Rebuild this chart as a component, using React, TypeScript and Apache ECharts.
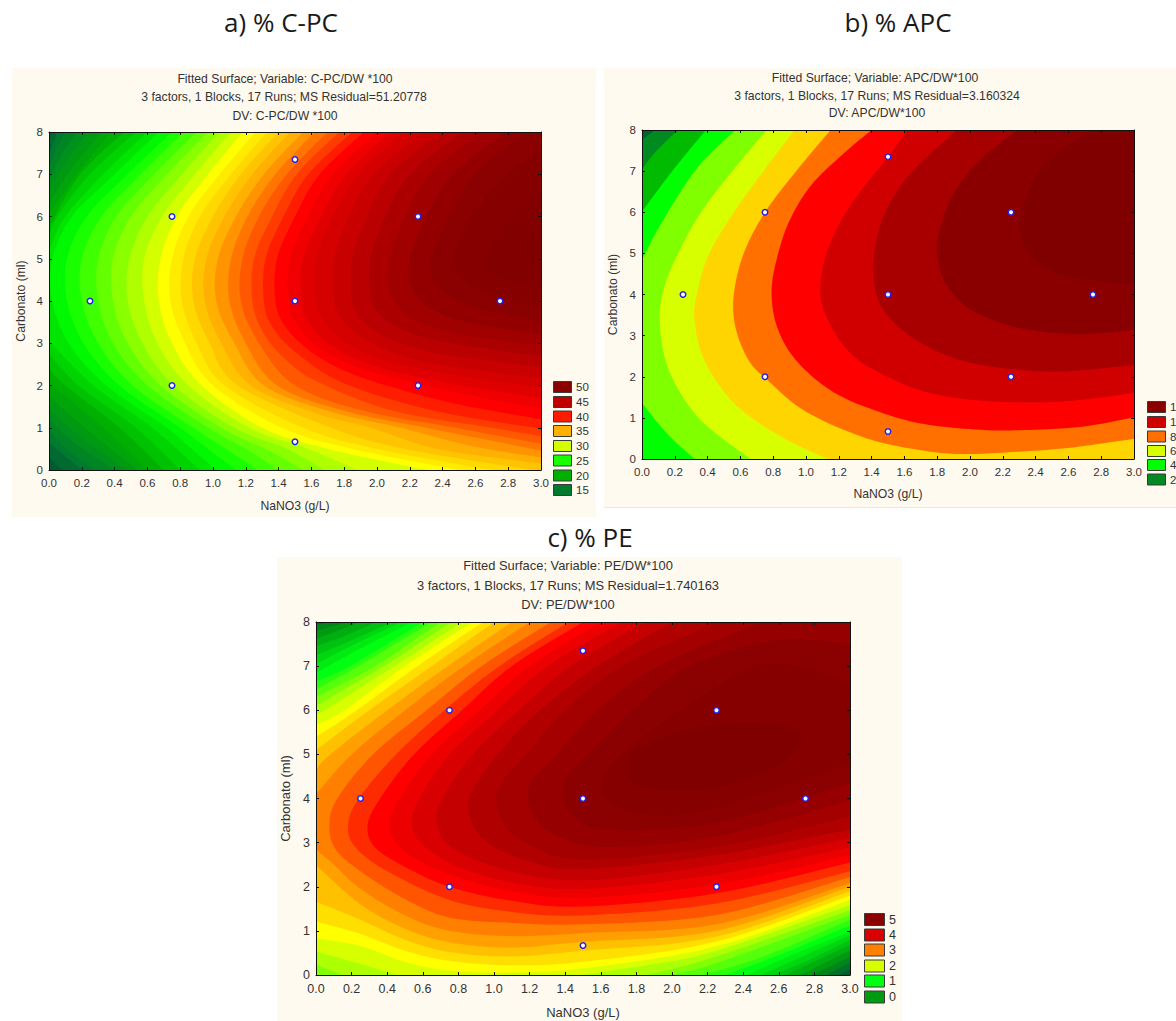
import React, { useEffect, useRef } from "react";
import * as echarts from "echarts";

type Pt = number[];
type Contour = [number, Pt[][]];

const X_TICK_MAX = 3;
const Y_TICK_MAX = 8;
const DESIGN_X = [0.25, 0.75, 0.75, 1.5, 1.5, 1.5, 2.25, 2.25, 2.75];
const DESIGN_Y = [4, 2, 6, 0.67, 4, 7.35, 2, 6, 4];

const TITLE_A = ["Fitted Surface; Variable: C-PC/DW *100", "3 factors, 1 Blocks, 17 Runs; MS Residual=51.20778", "DV: C-PC/DW *100"];
const TITLE_B = ["Fitted Surface; Variable: APC/DW*100", "3 factors, 1 Blocks, 17 Runs; MS Residual=3.160324", "DV: APC/DW*100"];
const TITLE_C = ["Fitted Surface; Variable: PE/DW*100", "3 factors, 1 Blocks, 17 Runs; MS Residual=1.740163", "DV: PE/DW*100"];
const LEGEND_A = ["50", "45", "40", "35", "30", "25", "20", "15"];
const LEGEND_B = ["12", "10", "8", "6", "4", "2"];
const LEGEND_C = ["5", "4", "3", "2", "1", "0"];

// Each contour: level, then its pieces as [NaNO3, Carbonato].
const CONTOURS_A: Contour[] = [
  [13, [[[0, 8]], [[0, 0]]]],
  [14, [[[0.02, 8], [0, 7.75]], [[0, 0.3], [0.08, 0]]]],
  [15, [[[0.05, 8], [0, 7.45]], [[0, 0.65], [0.2, 0]]]],
  [16, [[[0.1, 8], [0.04, 7.55], [0, 7.1]], [[0, 0.95], [0.12, 0.45], [0.28, 0]]]],
  [17, [[[0.17, 8], [0.07, 7.42], [0, 6.85]], [[0, 1.2], [0.17, 0.6], [0.4, 0]]]],
  [18, [[[0.24, 8], [0.1, 7.3], [0, 6.6]], [[0, 1.45], [0.2, 0.75], [0.47, 0]]]],
  [19, [[[0.32, 8], [0.14, 7.15], [0, 6.3]], [[0, 1.75], [0.25, 0.9], [0.54, 0]]]],
  [20, [[[0.38, 8], [0.17, 7], [0, 6.05]], [[0, 2.05], [0.33, 1], [0.6, 0]]]],
  [21, [[[0.46, 8], [0.19, 7], [0, 5.75]], [[0, 2.4], [0.1, 2], [0.43, 1], [0.7, 0]]]],
  [22, [[[0.53, 8], [0.25, 7], [0.05, 6], [0, 5.5]], [[0, 2.75], [0.18, 2], [0.53, 1], [0.8, 0]]]],
  [23, [[[0.6, 8], [0.33, 7], [0.1, 6], [0, 5.2]], [[0, 3.05], [0.27, 2], [0.63, 1], [0.92, 0]]]],
  [24, [[[0.67, 8], [0.4, 7], [0.14, 6], [0.02, 5], [0.02, 4], [0.12, 3], [0.35, 2], [0.72, 1], [0.87, 0.5], [1.02, 0]]]],
  [25, [[[0.75, 8], [0.48, 7], [0.23, 6], [0.11, 5], [0.11, 4], [0.21, 3], [0.43, 2], [0.8, 1], [0.97, 0.5], [1.14, 0]]]],
  [26, [[[0.82, 8], [0.56, 7], [0.32, 6], [0.2, 5], [0.2, 4], [0.3, 3], [0.51, 2], [0.88, 1], [1.08, 0.5], [1.27, 0]]]],
  [27, [[[0.9, 8], [0.64, 7], [0.41, 6], [0.3, 5], [0.3, 4], [0.39, 3], [0.6, 2], [0.97, 1], [1.2, 0.5], [1.4, 0]]]],
  [28, [[[0.97, 8], [0.72, 7], [0.5, 6], [0.39, 5], [0.39, 4], [0.48, 3], [0.68, 2], [1.05, 1], [1.32, 0.5], [1.55, 0]]]],
  [29, [[[1.04, 8], [0.81, 7], [0.6, 6], [0.49, 5], [0.48, 4], [0.57, 3], [0.76, 2], [1.13, 1], [1.45, 0.5], [1.68, 0]]]],
  [30, [[[1.11, 8], [0.89, 7], [0.69, 6], [0.58, 5], [0.58, 4], [0.66, 3], [0.85, 2], [1.22, 1], [1.58, 0.5], [1.88, 0]]]],
  [31, [[[1.18, 8], [0.97, 7], [0.78, 6], [0.68, 5], [0.67, 4], [0.75, 3], [0.93, 2], [1.3, 1], [1.7, 0.5], [2.3, 0]]]],
  [32, [[[1.26, 8], [1.04, 7], [0.85, 6], [0.75, 5], [0.74, 4], [0.83, 3], [1, 2], [1.42, 1], [1.85, 0.5], [2.5, 0]]]],
  [33, [[[1.33, 8], [1.11, 7], [0.92, 6], [0.82, 5], [0.81, 4], [0.9, 3], [1.07, 2], [1.55, 1], [2, 0.5], [2.7, 0]]]],
  [34, [[[1.4, 8], [1.17, 7], [1, 6], [0.89, 5], [0.88, 4], [0.98, 3], [1.15, 2], [1.72, 1], [2.17, 0.5], [2.95, 0]]]],
  [35, [[[1.47, 8], [1.24, 7], [1.07, 6], [0.96, 5], [0.95, 4], [1.05, 3], [1.23, 2], [1.62, 1.35], [1.96, 1], [2.37, 0.5], [3, 0.15]]]],
  [36, [[[1.55, 8], [1.31, 7], [1.14, 6], [1.03, 5], [1.02, 4], [1.13, 3], [1.31, 2], [1.7, 1.4], [2.14, 1], [2.6, 0.55], [3, 0.3]]]],
  [37, [[[1.62, 8], [1.38, 7], [1.21, 6], [1.11, 5], [1.1, 4], [1.2, 3], [1.39, 2], [1.8, 1.4], [2.3, 1], [3, 0.46]]]],
  [38, [[[1.7, 8], [1.45, 7], [1.28, 6], [1.18, 5], [1.17, 4], [1.28, 3], [1.5, 2], [1.92, 1.4], [2.48, 1], [3, 0.62]]]],
  [39, [[[1.77, 8], [1.51, 7], [1.36, 6], [1.25, 5], [1.24, 4], [1.3, 3.3], [1.42, 2.7], [1.63, 2.1], [2.1, 1.4], [2.7, 1], [3, 0.8]]]],
  [40, [[[1.85, 8], [1.58, 7], [1.43, 6], [1.32, 5], [1.31, 4], [1.36, 3.4], [1.5, 2.8], [1.8, 2.05], [2.35, 1.4], [3, 0.98]]]],
  [41, [[[1.92, 8], [1.65, 7], [1.5, 6], [1.39, 5], [1.38, 4], [1.44, 3.4], [1.58, 2.85], [1.8, 2.35], [2.1, 1.95], [2.5, 1.55], [3, 1.2]]]],
  [42, [[[2, 8], [1.73, 7], [1.58, 6], [1.47, 5], [1.46, 4], [1.52, 3.4], [1.66, 2.85], [1.9, 2.4], [2.3, 2], [2.65, 1.7], [3, 1.45]]]],
  [43, [[[2.08, 8], [1.81, 7], [1.66, 6], [1.55, 5], [1.54, 4], [1.6, 3.4], [1.76, 2.85], [2.02, 2.42], [2.45, 2.05], [3, 1.7]]]],
  [44, [[[2.16, 8], [1.89, 7], [1.73, 6], [1.63, 5], [1.63, 4], [1.7, 3.4], [1.86, 2.9], [2.12, 2.52], [2.55, 2.2], [3, 1.95]]]],
  [45, [[[2.28, 8], [1.98, 7], [1.83, 6], [1.74, 5], [1.74, 4], [1.8, 3.5], [1.97, 3], [2.25, 2.6], [2.65, 2.35], [3, 2.18]]]],
  [46, [[[2.4, 8], [2.08, 7], [1.94, 6], [1.85, 5], [1.85, 4], [1.92, 3.5], [2.08, 3.1], [2.35, 2.78], [2.7, 2.58], [3, 2.43]]]],
  [47, [[[2.52, 8], [2.2, 7], [2.05, 6], [1.96, 5], [1.96, 4.1], [2.04, 3.6], [2.2, 3.25], [2.45, 3], [2.75, 2.83], [3, 2.7]]]],
  [48, [[[2.64, 8], [2.32, 7], [2.17, 6], [2.08, 5], [2.08, 4.2], [2.17, 3.7], [2.32, 3.4], [2.55, 3.18], [3, 2.95]]]],
  [49, [[[2.78, 8], [2.46, 7], [2.3, 6], [2.2, 5], [2.2, 4.4], [2.28, 3.95], [2.42, 3.65], [2.65, 3.42], [3, 3.2]]]],
  [50, [[[2.9, 8], [2.6, 7], [2.44, 6], [2.33, 5], [2.36, 4.4], [2.5, 4], [2.7, 3.75], [3, 3.5]]]],
  [51, [[[3, 7.6], [2.8, 7], [2.58, 6], [2.47, 5], [2.55, 4.45], [2.75, 4.1], [3, 3.85]]]],
  [52, [[[3, 6.7], [2.82, 6], [2.66, 5], [2.72, 4.6], [3, 4.3]]]],
  [53, [[[3, 5.9], [2.9, 5.3], [2.95, 4.85], [3, 4.7]]]],
];

const CONTOURS_B: Contour[] = [
  [0, [[[0, 8]], [[0, 0]]]],
  [1, [[[0.08, 8], [0, 7.76]], [[0, 0]]]],
  [2, [[[0.22, 8], [0.09, 7.5], [0, 7.05]], [[0, 0]]]],
  [3, [[[0.39, 8], [0.19, 7.03], [0, 6.02]], [[0, 0]]]],
  [4, [[[0.57, 8], [0.34, 7.1], [0.12, 5.75], [0, 4.84]], [[0, 1.36], [0.15, 0.63], [0.32, 0]]]],
  [5, [[[0.76, 8], [0.55, 7], [0.36, 6], [0.22, 5], [0.13, 4.1], [0.11, 3.2], [0.17, 2.1], [0.35, 0.98], [0.66, 0]]]],
  [6, [[[0.93, 8], [0.74, 7], [0.56, 6], [0.41, 5], [0.34, 4.1], [0.32, 3.4], [0.38, 2.4], [0.56, 1.36], [0.84, 0.56], [1.13, 0]]]],
  [7, [[[1.15, 8], [0.94, 7], [0.75, 6], [0.62, 5], [0.56, 4], [0.57, 3.2], [0.65, 2.4], [0.77, 1.9], [1, 1.15], [1.37, 0.5], [1.72, 0.2], [1.96, 0.12], [2.26, 0.17], [2.6, 0.27], [3, 0.49]]]],
  [8, [[[1.4, 8], [1.25, 7.5], [1.04, 6.7], [0.9, 5.8], [0.82, 4.84], [0.79, 4], [0.83, 3.14], [0.95, 2.35], [1.17, 1.62], [1.45, 1.14], [1.72, 0.85], [2.06, 0.71], [2.3, 0.7], [2.67, 0.78], [3, 1.01]]]],
  [9, [[[1.62, 8], [1.5, 7.35], [1.33, 6.5], [1.2, 5.7], [1.11, 4.8], [1.09, 3.9], [1.17, 3.1], [1.29, 2.5], [1.45, 2.09], [1.72, 1.64], [2.06, 1.42], [2.46, 1.38], [2.77, 1.48], [3, 1.61]]]],
  [10, [[[1.92, 8], [1.655, 7.03], [1.51, 6.22], [1.44, 5.5], [1.41, 4.67], [1.44, 3.87], [1.54, 3.3], [1.69, 2.85], [1.87, 2.5], [2.08, 2.28], [2.33, 2.16], [2.57, 2.13], [3, 2.28]]]],
  [11, [[[2.29, 8], [2.06, 7.27], [1.9, 6.46], [1.81, 5.49], [1.8, 5], [1.84, 4.35], [1.96, 3.75], [2.14, 3.38], [2.36, 3.14], [2.67, 3.03], [3, 3.14]]]],
  [12, [[[2.75, 8], [2.46, 7.2], [2.33, 6.2], [2.31, 5.5], [2.38, 4.9], [2.58, 4.45], [3, 4.23]]]],
];

const CONTOURS_C: Contour[] = [
  [-0.6, [[[0, 8]], [[0, 0]], [[3, 0]]]],
  [-0.4, [[[0, 8]], [[0, 0]], [[2.94, 0], [3, 0.12]]]],
  [-0.2, [[[0.07, 8], [0, 7.93]], [[0, 0]], [[2.87, 0], [3, 0.28]]]],
  [0, [[[0.18, 8], [0, 7.8]], [[0, 0]], [[2.79, 0], [3, 0.42]]]],
  [0.2, [[[0.25, 8], [0.1, 7.77], [0, 7.62]], [[0, 0]], [[2.72, 0], [2.88, 0.32], [3, 0.56]]]],
  [0.4, [[[0.34, 8], [0.14, 7.65], [0, 7.45]], [[0, 0]], [[2.64, 0], [2.85, 0.4], [3, 0.68]]]],
  [0.6, [[[0.43, 8], [0.18, 7.55], [0, 7.25]], [[0, 0]], [[2.57, 0], [2.8, 0.4], [3, 0.8]]]],
  [0.8, [[[0.48, 8], [0.22, 7.5], [0, 7.05]], [[0, 0]], [[2.5, 0], [2.75, 0.45], [3, 0.9]]]],
  [1, [[[0.54, 8], [0.25, 7.4], [0, 6.85]], [[0, 0]], [[2.42, 0], [2.7, 0.5], [3, 0.98]]]],
  [1.2, [[[0.6, 8], [0.19, 7], [0, 6.65]], [[0, 0]], [[2.3, 0], [2.6, 0.45], [3, 1.12]]]],
  [1.4, [[[0.65, 8], [0.24, 7], [0, 6.47]], [[0, 0]], [[2.17, 0], [2.5, 0.4], [3, 1.25]]]],
  [1.6, [[[0.7, 8], [0.33, 7], [0, 6.3]], [[0, 0]], [[2, 0], [2.25, 0.27], [3, 1.36]]]],
  [1.8, [[[0.76, 8], [0.38, 7], [0, 6.1]], [[0, 0.23], [0.15, 0]], [[1.86, 0], [2.25, 0.42], [3, 1.47]]]],
  [2, [[[0.82, 8], [0.44, 7], [0.09, 6.1], [0, 5.9]], [[0, 0.53], [0.25, 0.25], [0.45, 0]], [[1.5, 0], [1.9, 0.25], [2.25, 0.55], [3, 1.58]]]],
  [2.2, [[[0.88, 8], [0.5, 7], [0.16, 6], [0, 5.67]], [[0, 0.83], [0.25, 0.66], [0.5, 0.3], [0.75, 0.1], [1.1, 0.06], [1.5, 0.15], [2.25, 0.65], [3, 1.7]]]],
  [2.4, [[[0.94, 8], [0.57, 7], [0.23, 6], [0, 5.4]], [[0, 1.21], [0.25, 0.93], [0.5, 0.55], [0.75, 0.32], [1.1, 0.22], [1.5, 0.3], [2.25, 0.76], [3, 1.8]]]],
  [2.6, [[[1, 8], [0.65, 7], [0.3, 6], [0, 5.1]], [[0, 1.66], [0.25, 1.25], [0.5, 0.8], [0.75, 0.52], [1.1, 0.42], [1.5, 0.55], [2.25, 0.87], [3, 1.9]]]],
  [2.8, [[[1.1, 8], [0.74, 7], [0.4, 6], [0.08, 5], [0, 4.65]], [[0, 2.49], [0.25, 1.6], [0.5, 1.05], [0.75, 0.74], [1.1, 0.62], [1.5, 0.75], [2.25, 1], [3, 2]]]],
  [3, [[[1.2, 8], [0.83, 7], [0.5, 6], [0.2, 5], [0, 4.1]], [[0, 2.85], [0.1, 2.5], [0.25, 1.95], [0.5, 1.35], [0.75, 1], [1.1, 0.88], [1.5, 0.95], [2.25, 1.15], [3, 2.08]]]],
  [3.2, [[[1.32, 8], [0.93, 7], [0.62, 6], [0.32, 5], [0.12, 4], [0.075, 3.4], [0.11, 2.85], [0.25, 2.35], [0.5, 1.72], [0.75, 1.3], [1.1, 1.18], [1.5, 1.15], [2.25, 1.36], [3, 2.22]]]],
  [3.4, [[[1.42, 8], [1.03, 7], [0.72, 6], [0.45, 5], [0.24, 4], [0.18, 3.4], [0.22, 2.9], [0.4, 2.35], [0.75, 1.7], [1.1, 1.43], [1.5, 1.35], [2.25, 1.62], [3, 2.35]]]],
  [3.6, [[[1.5, 8], [1.1, 7], [0.82, 6], [0.55, 5], [0.36, 4], [0.29, 3.4], [0.33, 2.9], [0.5, 2.45], [0.75, 2], [1.1, 1.68], [1.5, 1.55], [2.25, 1.85], [3, 2.55]]]],
  [3.8, [[[1.6, 8], [1.2, 7], [0.92, 6], [0.65, 5], [0.47, 4], [0.41, 3.4], [0.47, 2.9], [0.62, 2.5], [0.85, 2.15], [1.1, 1.9], [1.5, 1.75], [2.25, 2.05], [3, 2.72]]]],
  [4, [[[1.72, 8], [1.3, 7], [1.02, 6], [0.75, 5], [0.58, 4], [0.54, 3.4], [0.6, 2.95], [0.8, 2.45], [1.1, 2.1], [1.5, 1.95], [2.25, 2.28], [3, 2.9]]]],
  [4.2, [[[1.85, 8], [1.43, 7], [1.14, 6], [0.88, 5], [0.71, 4], [0.68, 3.45], [0.76, 2.9], [1.05, 2.4], [1.5, 2.15], [2.25, 2.5], [3, 3.1]]]],
  [4.4, [[[2, 8], [1.58, 7], [1.26, 6], [1.02, 5], [0.87, 4.1], [0.87, 3.5], [0.98, 2.95], [1.22, 2.55], [1.5, 2.4], [2.25, 2.72], [3, 3.3]]]],
  [4.6, [[[2.25, 8], [1.72, 7], [1.4, 6], [1.18, 5], [1.02, 4.2], [1.05, 3.45], [1.2, 2.95], [1.5, 2.62], [2.25, 2.9], [3, 3.6]]]],
  [4.8, [[[2.5, 8], [1.92, 7], [1.58, 6], [1.35, 5], [1.2, 4.3], [1.22, 3.6], [1.38, 3.1], [1.65, 2.9], [2.25, 3.14], [3, 3.95]]]],
  [5, [[[3, 7.5], [2.6, 7.6], [2.1, 7], [1.78, 6], [1.53, 5], [1.4, 4.4], [1.42, 3.75], [1.62, 3.3], [2.25, 3.45], [3, 4.35]]]],
  [5.2, [[[3, 6.6], [2.53, 7.05], [2.05, 6], [1.78, 5.2], [1.62, 4.5], [1.65, 3.95], [1.9, 3.62], [2.25, 3.8], [3, 4.8]]]],
  [5.4, [[[1.76, 5.03], [1.8, 4.3], [2.25, 4.25], [2.65, 4.9], [2.7, 5.6], [2.3, 5.7], [1.95, 5.4], [1.76, 5.03]]]],
];

// Styles
const CLOSE_RIGHT: Pt[] = [[3, 0], [3, 8]];
const CLOSE_TOP_RIGHT: Pt[] = [[3, 8]];
const STOPS_A: number[][] = [
  [13, 0, 90, 50], [15, 0, 122, 46], [20, 0, 176, 0], [24.4, 0, 255, 0], [25, 26, 255, 0], [30, 212, 255, 0], [31, 255, 255, 0],
  [35, 255, 176, 0], [41, 255, 0, 0], [43, 225, 0, 0], [45, 200, 0, 0], [47, 172, 0, 0], [49, 148, 0, 0], [50, 139, 0, 0], [52, 130, 0, 0], [53, 128, 0, 0],
];
const STOPS_C: number[][] = [
  [-0.6, 0, 90, 50], [0, 0, 154, 16], [1, 0, 255, 16], [2, 216, 255, 0], [2.2, 255, 255, 0], [3, 255, 128, 0], [3.6, 255, 0, 0],
  [4, 216, 0, 0], [4.4, 176, 0, 0], [5, 139, 0, 0], [5.4, 128, 0, 0],
];
const BANDS_B = ["#006430", "#008a20", "#00bb00", "#00ff00", "#80ff00", "#d8ff00", "#ffd500", "#ff7000", "#ff0000", "#d00000", "#a80000", "#8a0000", "#800000"];
const LEG_COL_A = ["#8b0000", "#c00000", "#ff1a00", "#ffb000", "#d4ff00", "#1aff00", "#00b000", "#007a2e"];
const LEG_COL_B = ["#8a0000", "#d00000", "#ff7000", "#d8ff00", "#00ff00", "#008a20"];
const LEG_COL_C = ["#8b0000", "#d80000", "#ff8000", "#d8ff00", "#00ff10", "#009a10"];
const TEXT = "#333333";
const FONT = "'Liberation Sans', Arial, sans-serif";
const HEAD_FONT = "'Open Sans', 'Noto Sans', sans-serif";

function ramp(stops: number[][], v: number): string {
  let i = 0;
  while (i < stops.length - 2 && v > stops[i + 1][0]) i++;
  const a = stops[i], b = stops[i + 1];
  const t = Math.max(0, Math.min(1, (v - a[0]) / (b[0] - a[0])));
  const c = [1, 2, 3].map((k) => Math.round(a[k] + (b[k] - a[k]) * t));
  return `rgb(${c[0]},${c[1]},${c[2]})`;
}

// Smooth line through the read points, in pixels.
function spline(p: number[][]): number[][] {
  if (p.length < 3) return p;
  const out: number[][] = [];
  for (let i = 0; i < p.length - 1; i++) {
    const p0 = p[Math.max(0, i - 1)], p1 = p[i], p2 = p[i + 1], p3 = p[Math.min(p.length - 1, i + 2)];
    for (let s = 0; s < 10; s++) {
      const t = s / 10, t2 = t * t, t3 = t2 * t;
      out.push([0, 1].map((k) =>
        0.5 * (2 * p1[k] + (p2[k] - p0[k]) * t + (2 * p0[k] - 5 * p1[k] + 4 * p2[k] - p3[k]) * t2 + (3 * p1[k] - p0[k] - 3 * p2[k] + p3[k]) * t3)));
    }
  }
  out.push(p[p.length - 1]);
  return out;
}

function contourSeries(contours: Contour[], close: Pt[], colorOf: (level: number, i: number) => string, axis: number) {
  return {
    type: "custom",
    coordinateSystem: "cartesian2d",
    xAxisIndex: axis,
    yAxisIndex: axis,
    z: 2,
    clip: true,
    silent: true,
    data: contours.map((c) => [c[0], 0]),
    encode: { x: -1, y: -1 },
    renderItem: (params: any, api: any) => {
      const idx = params.dataIndex;
      const pieces = contours[idx][1];
      const pts: number[][] = [];
      pieces.forEach((piece) => {
        spline(piece.map((q) => api.coord(q))).forEach((q) => pts.push(q));
      });
      close.forEach((q) => pts.push(api.coord(q)));
      return { type: "polygon", shape: { points: pts }, style: { fill: colorOf(contours[idx][0], idx), stroke: "none" } };
    },
  };
}

function axesFor(font: number, nameFont: number, gapX: number, gapY: number) {
  const common = {
    z: 5,
    axisLine: { show: true, onZero: false, lineStyle: { color: "#111", width: 1 } },
    axisTick: { show: true, inside: true, length: 3, lineStyle: { color: "#111" } },
    splitLine: { show: false },
  };
  const xMain = {
    ...common, type: "value", min: 0, max: X_TICK_MAX, interval: 0.2, position: "bottom",
    name: "NaNO3 (g/L)", nameLocation: "middle", nameGap: gapX,
    nameTextStyle: { color: TEXT, fontFamily: FONT, fontSize: nameFont },
    axisLabel: { color: TEXT, fontFamily: FONT, fontSize: font, margin: 7, formatter: (v: number) => v.toFixed(1) },
  };
  const yMain = {
    ...common, type: "value", min: 0, max: Y_TICK_MAX, interval: 1, position: "left",
    name: "Carbonato (ml)", nameLocation: "middle", nameGap: gapY,
    nameTextStyle: { color: TEXT, fontFamily: FONT, fontSize: nameFont },
    axisLabel: { color: TEXT, fontFamily: FONT, fontSize: font, margin: 6 },
  };
  const xTop = { ...common, type: "value", min: 0, max: X_TICK_MAX, interval: 0.2, position: "top", axisLabel: { show: false } };
  const yRight = { ...common, type: "value", min: 0, max: Y_TICK_MAX, interval: 1, position: "right", axisLabel: { show: false } };
  return { x: [xMain, xTop], y: [yMain, yRight] };
}

function textEl(text: string, x: number, y: number, font: number, fontFamily = FONT, align = "center", fill = TEXT) {
  return { type: "text", x, y, silent: true, style: { text, fontSize: font, fontFamily, fill, textAlign: align, textVerticalAlign: "middle" } };
}

function legendEls(labels: string[], colors: string[], x: number, w: number, h: number, ys: number[], font: number) {
  const out: any[] = [];
  labels.forEach((l, i) => {
    out.push({ type: "rect", silent: true, shape: { x: x + 0.5, y: ys[i] + 0.5, width: w, height: h }, style: { fill: colors[i], stroke: "#3a3a3a", lineWidth: 1 } });
    out.push(textEl(l, x + w + 5, ys[i] + h / 2 + 0.5, font, FONT, "left"));
  });
  return out;
}

function box(x: number, y: number, width: number, height: number) {
  return { type: "rect", z: -1, silent: true, shape: { x, y, width, height }, style: { fill: "#fffaf0" } };
}

export default function App() {
  const ref = useRef<HTMLDivElement>(null);
  useEffect(() => {
    if (!ref.current) return;
    const chart = echarts.init(ref.current, undefined, { renderer: "svg" });
    const a = axesFor(11.5, 12.2, 30, 22);
    const b = axesFor(11.5, 12.2, 29, 23);
    const c = axesFor(12.5, 13, 31, 24);
    const xAxis = [...a.x, ...b.x, ...c.x].map((o: any, i) => ({ ...o, gridIndex: Math.floor(i / 2) }));
    const yAxis = [...a.y, ...b.y, ...c.y].map((o: any, i) => ({ ...o, gridIndex: Math.floor(i / 2) }));
    const marks = (axis: number) => ({
      type: "scatter", xAxisIndex: axis, yAxisIndex: axis, z: 6, silent: true, clip: false,
      symbol: "circle", symbolSize: 5.5,
      itemStyle: { color: "#ffffff", borderColor: "#2222ee", borderWidth: 1.5, opacity: 1 },
      data: DESIGN_X.map((x, i) => [x, DESIGN_Y[i]]),
    });
    const legendYA = [381, 396, 410.5, 425, 440, 454.5, 469.5, 484];
    const legendYB = [401, 416, 430.5, 445, 459, 473.5];
    const legendYC = [913, 928.5, 943.5, 959.5, 974.5, 990.5];
    chart.setOption({
      animation: false,
      grid: [
        { left: 49, top: 132, width: 492, height: 338, containLabel: false },
        { left: 642, top: 130, width: 492, height: 329, containLabel: false },
        { left: 316, top: 622, width: 534, height: 353, containLabel: false },
      ],
      xAxis,
      yAxis,
      series: [
        contourSeries(CONTOURS_A, CLOSE_RIGHT, (l) => ramp(STOPS_A, l), 0),
        contourSeries(CONTOURS_B, CLOSE_RIGHT, (_l, i) => BANDS_B[i], 2),
        contourSeries(CONTOURS_C, CLOSE_TOP_RIGHT, (l) => ramp(STOPS_C, l), 4),
        marks(0),
        marks(2),
        marks(4),
      ],
      graphic: [
        box(12, 68, 584, 449),
        box(604, 68, 572, 439),
        { type: "rect", z: -1, silent: true, shape: { x: 604, y: 507, width: 572, height: 1 }, style: { fill: "#e8e8e4" } },
        box(277, 557, 625, 464),
        textEl("a) % C-PC", 281, 22, 26, HEAD_FONT, "center", "#1a1a1a"),
        textEl("b) % APC", 898, 22, 26, HEAD_FONT, "center", "#1a1a1a"),
        textEl("c) % PE", 590, 537, 26, HEAD_FONT, "center", "#1a1a1a"),
        textEl(TITLE_A[0], 285, 78.5, 12.2), textEl(TITLE_A[1], 284, 97, 12.2), textEl(TITLE_A[2], 285, 116, 12.2),
        textEl(TITLE_B[0], 875, 77.5, 12.2), textEl(TITLE_B[1], 877, 95.5, 12.2), textEl(TITLE_B[2], 877, 113, 12.2),
        textEl(TITLE_C[0], 568, 565.5, 12.9), textEl(TITLE_C[1], 568, 585, 12.9), textEl(TITLE_C[2], 568, 604.5, 12.9),
        ...legendEls(LEGEND_A, LEG_COL_A, 553, 18, 11, legendYA, 11.5),
        ...legendEls(LEGEND_B, LEG_COL_B, 1147, 18, 11, legendYB, 11.5),
        ...legendEls(LEGEND_C, LEG_COL_C, 864, 20, 12, legendYC, 12.5),
      ],
    });
    return () => chart.dispose();
  }, []);
  return <div ref={ref} style={{ position: "absolute", left: 0, top: 0, width: 1176, height: 1021, overflow: "hidden", background: "#fff" }} />;
}
